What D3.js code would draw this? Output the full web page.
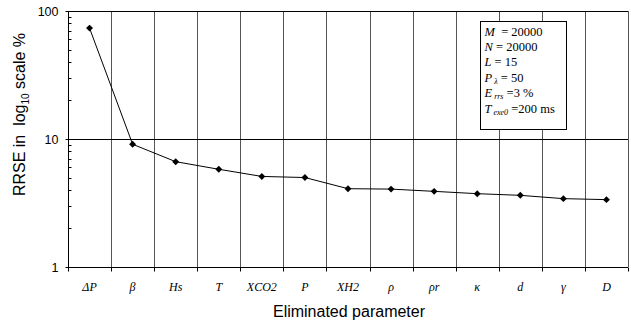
<!DOCTYPE html>
<html><head><meta charset="utf-8">
<script src="https://cdn.jsdelivr.net/npm/d3@7"></script>
<style>body{margin:0;background:#fff}svg{display:block}text{white-space:pre}</style>
</head><body><div id="c"></div>
<script>
const categories = ["ΔP","β","Hs","T","XCO2","P","XH2","ρ","ρr","κ","d","γ","D"];
const values = [73.5, 9.1, 6.65, 5.8, 5.1, 5.0, 4.09, 4.06, 3.9, 3.74, 3.63, 3.42, 3.36];
const yTicks = [1, 10, 100];
const yTitle = "RRSE in  log10 scale %";
const xTitle = "Eliminated parameter";

const W = 631, H = 324;
const m = {l:68, r:3, t:11, b:57};
const svg = d3.select("#c").append("svg").attr("width", W).attr("height", H);
const x = d3.scaleBand().domain(categories).range([m.l, W - m.r]);
const y = d3.scaleLog().domain([1, 100]).range([H - m.b, m.t]);

const g = svg.append("g");
const bounds = categories.slice(1).map(c => x(c));
bounds.push(W - m.r);
g.selectAll(".vg").data(bounds).join("line")
  .attr("x1", d => Math.round(d) + 0.5).attr("x2", d => Math.round(d) + 0.5)
  .attr("y1", m.t).attr("y2", H - m.b)
  .attr("stroke", "#555").attr("stroke-width", 1);
g.selectAll(".hg").data(yTicks).join("line")
  .attr("x1", m.l).attr("x2", W - m.r)
  .attr("y1", d => Math.round(y(d)) + 0.5).attr("y2", d => Math.round(y(d)) + 0.5)
  .attr("stroke", "#000").attr("stroke-width", 1);

const minorTicks = [];
for (let dec = 1; dec < 100; dec *= 10) for (let k = 2; k <= 9; k++) minorTicks.push(dec * k);
const ya = svg.append("g").attr("transform", `translate(${m.l + 0.5},0)`);
ya.append("line").attr("y1", m.t).attr("y2", H - m.b).attr("stroke", "#000");
ya.selectAll(".mt").data(minorTicks).join("line")
  .attr("x1", 0).attr("x2", 3)
  .attr("y1", d => Math.round(y(d)) + 0.5).attr("y2", d => Math.round(y(d)) + 0.5)
  .attr("stroke", "#000");
ya.selectAll(".Mt").data(yTicks).join("line")
  .attr("x1", -3).attr("x2", 3)
  .attr("y1", d => Math.round(y(d)) + 0.5).attr("y2", d => Math.round(y(d)) + 0.5)
  .attr("stroke", "#000");
ya.selectAll(".yl").data(yTicks).join("text")
  .attr("x", -10).attr("y", d => y(d)).attr("dy", "0.36em")
  .attr("text-anchor", "end").attr("font-family", "Liberation Sans, Arial, sans-serif")
  .attr("font-size", 12.5).text(d => d);

const xa = svg.append("g").attr("transform", `translate(0,${Math.round(H - m.b) + 0.5})`);
xa.append("line").attr("x1", m.l).attr("x2", W - m.r).attr("stroke", "#000");
xa.selectAll(".xt").data([m.l, ...bounds]).join("line")
  .attr("x1", d => Math.round(d) + 0.5).attr("x2", d => Math.round(d) + 0.5)
  .attr("y1", 0).attr("y2", 4).attr("stroke", "#000");
xa.selectAll(".xl").data(categories).join("text")
  .attr("x", d => x(d) + x.bandwidth() / 2).attr("y", 19.5).attr("dy", "0.35em")
  .attr("text-anchor", "middle").attr("font-family", "Liberation Serif, Times New Roman, serif")
  .attr("font-style", "italic").attr("font-size", 12).text(d => d);

svg.append("text").attr("x", 349).attr("y", 311).attr("dy", "0.35em")
  .attr("text-anchor", "middle").attr("font-family", "Liberation Sans, Arial, sans-serif")
  .attr("font-size", 16).text(xTitle);
const yt = svg.append("text").attr("transform", "translate(19,114.5) rotate(-90)")
  .attr("text-anchor", "middle").attr("dy", "0.35em")
  .attr("font-family", "Liberation Sans, Arial, sans-serif").attr("font-size", 16);
yt.append("tspan").text("RRSE in  log");
yt.append("tspan").attr("font-size", 10).attr("dy", "0.4em").text("10");
yt.append("tspan").attr("dy", "-0.25em").text(" scale %");

const pts = categories.map((c, i) => [x(c) + x.bandwidth() / 2, y(values[i])]);
svg.append("path").attr("d", d3.line()(pts)).attr("fill", "none").attr("stroke", "#000").attr("stroke-width", 1);
svg.selectAll(".pt").data(pts).join("path")
  .attr("transform", d => `translate(${d[0]},${d[1]}) rotate(45)`)
  .attr("d", d3.symbol(d3.symbolSquare, 24)).attr("fill", "#000");

const bx = 480.5, by = 21.5, bw = 86, bh = 108;
svg.append("rect").attr("x", bx).attr("y", by).attr("width", bw).attr("height", bh)
  .attr("fill", "#fff").attr("stroke", "#000");
const info = [
  [["M","i"],["  = 20000",""]],
  [["N","i"],[" = 20000",""]],
  [["L","i"],[" = 15",""]],
  [["P","i"],[" λ","is"],[" = 50",""]],
  [["E","i"],[" rrs","is"],[" =3 %",""]],
  [["T","i"],[" exe0","is"],[" =200 ms",""]]
];
info.forEach((parts, i) => {
  const t = svg.append("text").attr("x", bx + 4).attr("y", by + 14 + i * 15.4)
    .attr("font-family", "Liberation Serif, Times New Roman, serif").attr("font-size", 12.5);
  parts.forEach(([s, st], j) => {
    const ts = t.append("tspan").text(s);
    if (st.includes("i")) ts.attr("font-style", "italic");
    if (st.includes("s")) ts.attr("font-size", 8).attr("dy", 2);
    else if (j > 0 && parts[j-1][1].includes("s")) ts.attr("dy", -2);
  });
});
</script></body></html>
